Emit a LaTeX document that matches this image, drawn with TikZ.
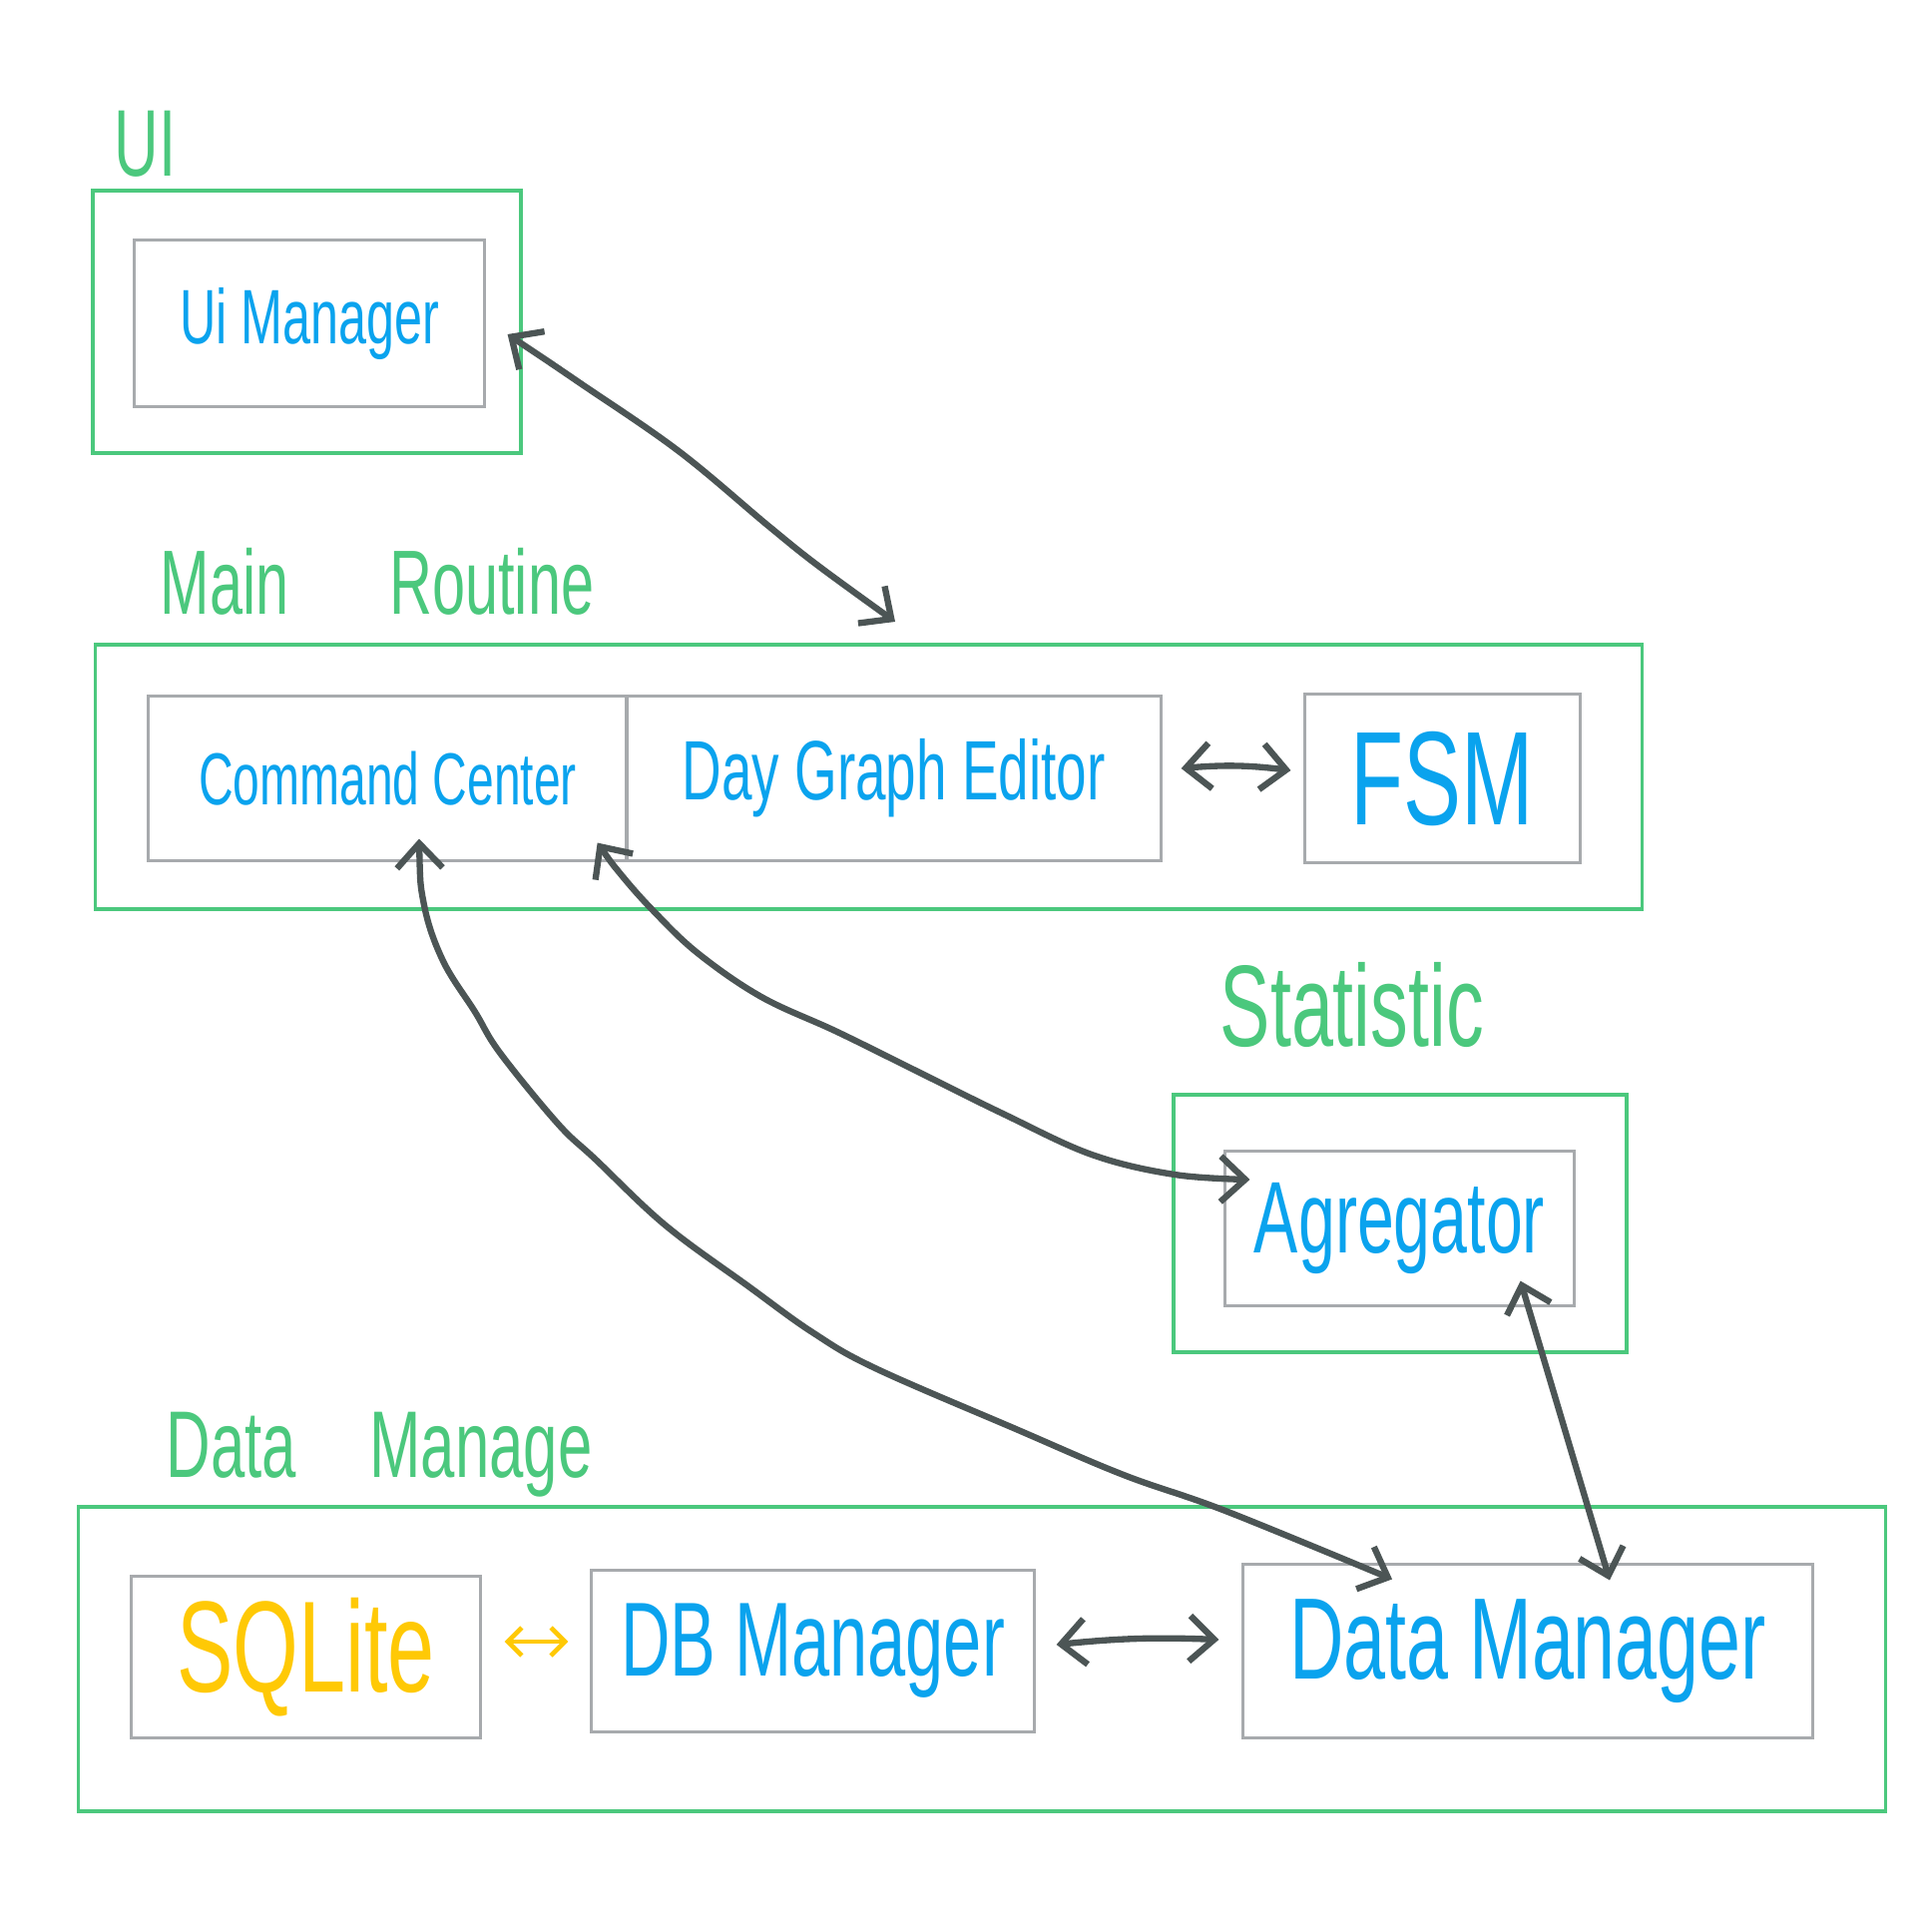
\documentclass[tikz,border=0pt]{standalone}
\usepackage{fontspec}
\newfontfamily\hand[FakeStretch=0.65]{Liberation Sans}
\usetikzlibrary{arrows.meta}
\definecolor{grn}{HTML}{4BC87D}
\definecolor{blu}{HTML}{0AA3EE}
\definecolor{ylw}{HTML}{FFC905}
\definecolor{gry}{HTML}{A7AAAD}
\definecolor{ink}{HTML}{4C5555}
\newcommand\hwsize[1]{\hand\fontsize{#1}{#1}\selectfont}
\begin{document}
\begin{tikzpicture}[x=0.01cm,y=-0.01cm,
 group/.style={draw=grn,line width=1.1pt,rectangle,inner sep=0pt},
 comp/.style={draw=gry,line width=0.85pt,rectangle,inner sep=0pt,text=blu},
 grouplabel/.style={anchor=base west,text=grn,inner sep=0pt},
 link/.style={draw=ink,line width=1.8pt,line cap=round,line join=round,{Straight Barb[length=7pt,width=13pt]}-{Straight Barb[length=7pt,width=13pt]}},
 smalllink/.style={draw=ylw,line width=1.3pt,line cap=round,{Straight Barb[length=4pt,width=8pt]}-{Straight Barb[length=4pt,width=8pt]}}
 ]
\fill[white] (0,0) rectangle (1936,1936);
\useasboundingbox (0,0) rectangle (1936,1936);

% UI
\node[group,minimum width=42.9mm,minimum height=26.3mm] (uig) at (307.5,322.5) {};
\node[grouplabel,font=\hwsize{27pt}] (uil) at (114,176) {UI};
\node[comp,minimum width=35mm,minimum height=16.6mm,font=\hwsize{22pt}] (uim) at (310,324) {Ui Manager};

% Main Routine
\node[group,minimum width=154.9mm,minimum height=26.5mm] (mrg) at (870.5,778.5) {};
\node[grouplabel,font=\hwsize{26pt}] (mrl) at (160,615) {Main\hspace{24pt} Routine};
\node[comp,minimum width=47.9mm,minimum height=16.4mm,font=\hwsize{21pt}] (cc) at (388.5,780) {Command Center};
\node[comp,minimum width=53.5mm,minimum height=16.4mm,font=\hwsize{24pt}] (dge) at (895.5,780) {Day Graph Editor};
\node[comp,minimum width=27.5mm,minimum height=16.8mm,font=\hwsize{38pt}] (fsm) at (1445.5,780) {FSM};

% Statistic
\node[group,minimum width=45.4mm,minimum height=25.8mm] (stg) at (1403,1226) {};
\node[grouplabel,font=\hwsize{33pt}] (stl) at (1222,1048) {Statistic};
\node[comp,minimum width=34.9mm,minimum height=15.4mm,font=\hwsize{29pt}] (agg) at (1402.5,1231) {Agregator};

% Data Manage
\node[group,minimum width=181mm,minimum height=30.5mm] (dmg) at (984,1662.5) {};
\node[grouplabel,font=\hwsize{27pt}] (dml) at (166,1480) {Data\hspace{16pt} Manage};
\node[comp,minimum width=34.9mm,minimum height=16.1mm,font=\hwsize{37pt},text=ylw] (sql) at (306.5,1660.5) {SQLite};
\node[comp,minimum width=44.3mm,minimum height=16.1mm,font=\hwsize{30pt}] (dbm) at (814.5,1654.5) {DB Manager};
\node[comp,minimum width=57mm,minimum height=17.3mm,font=\hwsize{33pt}] (dm) at (1531,1654.5) {Data Manager};

% connector ends
\coordinate (c1a) at ([shift={(22,11)}]uim.east);
\coordinate (c1b) at ([shift={(26.5,-21)}]mrg.north);
\coordinate (c2a) at ([shift={(19,-10)}]dge.east);
\coordinate (c2b) at ([shift={(-13,-8)}]fsm.west);
\coordinate (c3a) at ([shift={(31.5,-23)}]cc.south);
\coordinate (c3b) at ([shift={(-136,16)}]dm.north);
\coordinate (c4a) at ([shift={(-31,-19)}]cc.south east);
\coordinate (c4b) at ([shift={(26,-49)}]agg.west);
\coordinate (c5a) at ([shift={(-55,-26)}]agg.south east);
\coordinate (c5b) at ([shift={(82,17)}]dm.north);
\coordinate (c6a) at ([shift={(23,-15.5)}]sql.east);
\coordinate (c6b) at ([shift={(-22,-9.5)}]dbm.west);
\coordinate (c7a) at ([shift={(21,-6.5)}]dbm.east);
\coordinate (c7b) at ([shift={(-23,-11.5)}]dm.west);

\draw[link] plot[smooth,tension=0.6] coordinates {(c1a) (580,383) (680,452) (770,527) (820,567) (c1b)};
\draw[link] (c2a) to[bend left=6] (c2b);
\draw[link] plot[smooth,tension=0.6] coordinates {(c3a) (425,907) (444,963) (476,1014) (501,1055) (559,1126) (597,1162) (667,1228) (750,1289) (814,1335) (877,1371) (1018,1432) (1126,1478) (1228,1514) (c3b)};
\draw[link] plot[smooth,tension=0.6] coordinates {(c4a) (622,876) (654,912) (699,955) (763,999) (839,1034) (922,1075) (1005,1116) (1094,1157) (1177,1177) (c4b)};
\draw[link] (c5a) -- (c5b);
\draw[smalllink] (c6a) -- (c6b);
\draw[link] (c7a) to[bend left=4] (c7b);
\end{tikzpicture}
\end{document}
